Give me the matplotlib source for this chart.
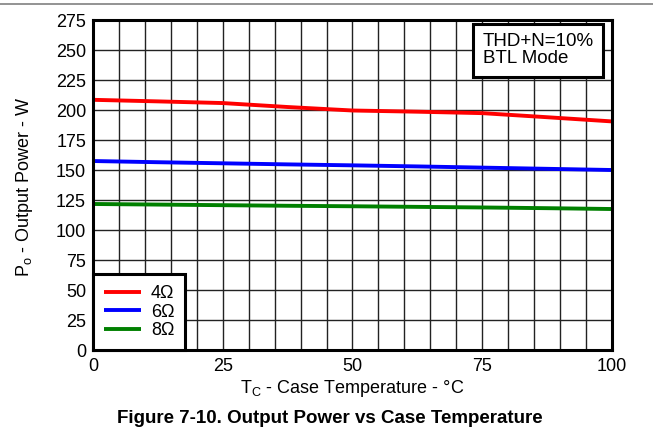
import numpy as np
import matplotlib.pyplot as plt
from matplotlib.lines import Line2D

plt.rcParams['font.family'] = ['Liberation Sans', 'DejaVu Sans']
plt.rcParams['mathtext.fontset'] = 'custom'
plt.rcParams['mathtext.rm'] = 'Liberation Sans'

# Case temperature (°C) and output power (W)
temp = [0, 12.5, 25, 37.5, 50, 62.5, 75, 87.5, 100]
p_4ohm = [208.5, 207.2, 205.8, 202.5, 199.6, 198.6, 197.4, 194.0, 190.5]
p_6ohm = [157.5, 156.5, 155.6, 154.7, 153.9, 153.0, 152.0, 151.0, 150.0]
p_8ohm = [121.7, 121.2, 120.7, 120.2, 119.8, 119.3, 118.8, 118.2, 117.5]

labels = ['4Ω', '6Ω', '8Ω']
colors = ['#ff0000', '#0000ff', '#008000']

fig = plt.figure(figsize=(6.53, 4.4), dpi=100)
ax = fig.add_axes([0.1424, 0.2045, 0.7948, 0.75])

for y, lab, c in zip([p_4ohm, p_6ohm, p_8ohm], labels, colors):
    ax.plot(temp, y, color=c, lw=2.8, label=lab, solid_capstyle='butt')

ax.set_xlim(0, 100)
ax.set_ylim(0, 275)
ax.set_xticks(np.arange(0, 101, 25))
ax.set_yticks(np.arange(0, 276, 25))
ax.set_xticks(np.arange(0, 101, 5), minor=True)
ax.grid(True, which='major', color='#222222', lw=1.0)
ax.grid(True, which='minor', axis='x', color='#222222', lw=1.0)
ax.tick_params(which='both', length=0, labelsize=13)
ax.tick_params(axis='x', pad=6)
ax.tick_params(axis='y', pad=5)
for s in ax.spines.values():
    s.set_linewidth(2.2)
    s.set_color('black')

fig.text(0.54, 1 - 388 / 440, 'T$_\\mathregular{C}$ - Case Temperature - °C',
         ha='center', va='center', fontsize=13)
fig.text(0.038, 1 - 187 / 440, 'P$_\\mathregular{o}$ - Output Power - W',
         ha='center', va='center', rotation=90, fontsize=13)

leg = ax.legend(loc='lower left', fontsize=13, frameon=True, fancybox=False,
                borderaxespad=0, handlelength=2.05, handletextpad=0.55,
                labelspacing=0.08, borderpad=0.6)
leg.get_frame().set_edgecolor('black')
leg.get_frame().set_linewidth(2.2)
leg.get_frame().set_alpha(1)

ax.text(0.7505, 0.96, 'THD+N=10%\nBTL Mode', transform=ax.transAxes,
        ha='left', va='top', fontsize=13.5, linespacing=1.0, zorder=5,
        bbox=dict(boxstyle='square,pad=0.5', fc='white', ec='black', lw=2.2))

fig.text(0.505, 1 - 418 / 440, 'Figure 7-10. Output Power vs Case Temperature',
         ha='center', va='center', fontsize=13.5, fontweight='bold')

fig.add_artist(Line2D([0, 1], [0.992, 0.992], transform=fig.transFigure,
                      color='#808080', lw=1.2))

fig.savefig('out.png', dpi=100)
